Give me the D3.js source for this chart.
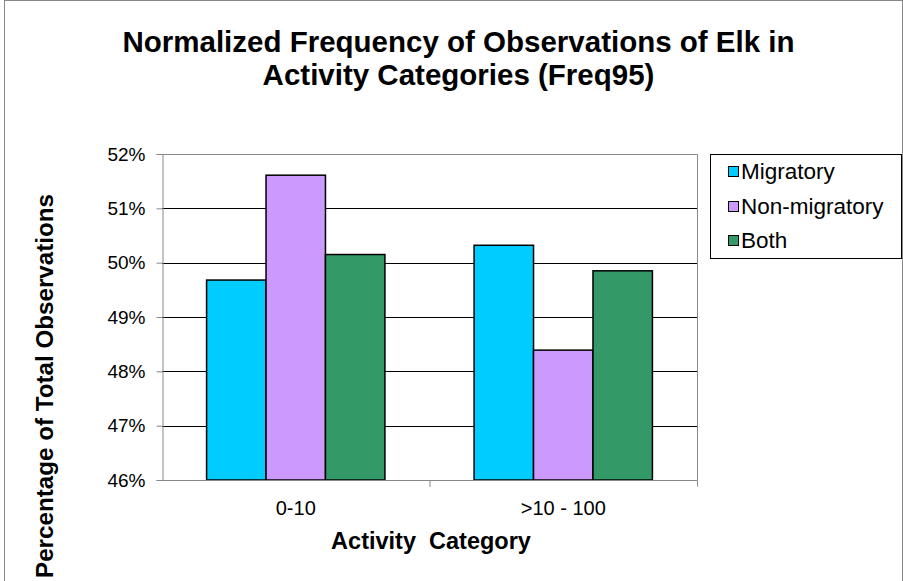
<!DOCTYPE html>
<html>
<head>
<meta charset="utf-8">
<script src="https://cdn.jsdelivr.net/npm/d3@7"></script>
<style>
  html, body { margin: 0; padding: 0; background: #fff; }
  svg { display: block; font-family: "Liberation Sans", Arial, sans-serif; }
</style>
</head>
<body>
<svg id="chart" width="903" height="581"></svg>
<script>
const categories = ["0-10", ">10 - 100"];
const seriesNames = ["Migratory", "Non-migratory", "Both"];
const migratory = [49.68, 50.32];
const nonMigratory = [51.61, 48.39];
const both = [50.15, 49.85];
const yTicks = [46, 47, 48, 49, 50, 51, 52];
const colors = ["#00CCFF", "#CC99FF", "#339966"];

const seriesValues = [migratory, nonMigratory, both];

const svg = d3.select("#chart");
const W = 903, H = 581;

// outer chart border
svg.append("rect").attr("x", 4.5).attr("y", 0.5).attr("width", W - 5).attr("height", H + 10)
  .attr("fill", "none").attr("stroke", "#888").attr("stroke-width", 1);

const plot = { left: 162, right: 697, top: 154, bottom: 480 };

const x0 = d3.scaleBand().domain(categories).range([plot.left, plot.right]).paddingInner(0).paddingOuter(0);
const groupPad = 0.75 / 4.5;
const x1 = d3.scaleBand().domain(seriesNames)
  .range([x0.bandwidth() * groupPad, x0.bandwidth() * (1 - groupPad)]).padding(0);
const y = d3.scaleLinear().domain([46, 52]).range([plot.bottom, plot.top]);

// gridlines
svg.append("g").selectAll("line").data(yTicks.filter(t => t !== 46 && t !== 52)).join("line")
  .attr("x1", plot.left).attr("x2", plot.right)
  .attr("y1", d => Math.round(y(d)) + 0.5).attr("y2", d => Math.round(y(d)) + 0.5)
  .attr("stroke", "#000").attr("stroke-width", 1);

// plot border top/right
svg.append("path")
  .attr("d", `M${plot.left},${plot.top + 0.5}H${plot.right + 0.5}V${plot.bottom}`)
  .attr("fill", "none").attr("stroke", "#888").attr("stroke-width", 1);

// bars
const groups = svg.append("g").selectAll("g").data(categories).join("g")
  .attr("transform", d => `translate(${x0(d)},0)`);
groups.selectAll("rect")
  .data((c, ci) => seriesNames.map((s, si) => ({ s, si, v: seriesValues[si][ci] })))
  .join("rect")
  .attr("x", d => x1(d.s))
  .attr("y", d => y(d.v))
  .attr("width", x1.bandwidth())
  .attr("height", d => y(46) - y(d.v))
  .attr("fill", d => colors[d.si])
  .attr("stroke", "#000").attr("stroke-width", 1.5);

// y axis
const yAxis = d3.axisLeft(y).tickValues(yTicks).tickSize(6).tickPadding(11)
  .tickFormat(d => d + "%");
const yg = svg.append("g").attr("transform", `translate(${plot.left + 0.5},0)`).call(yAxis);
yg.select(".domain").attr("stroke", "#888");
yg.selectAll(".tick line").attr("stroke", "#888");
yg.selectAll(".tick text").attr("font-size", 19).attr("fill", "#000")
  .attr("font-family", "Liberation Sans, Arial, sans-serif");

// x axis
const xAxis = d3.axisBottom(x0).tickSize(0).tickPadding(20);
const xg = svg.append("g").attr("transform", `translate(0,${plot.bottom + 0.5})`).call(xAxis);
xg.select(".domain").attr("stroke", "#888").attr("d", `M${plot.left},0H${plot.right + 0.5}V6`);
xg.selectAll(".tick text").attr("font-size", 20).attr("fill", "#000")
  .attr("font-family", "Liberation Sans, Arial, sans-serif");
// category separator ticks
svg.append("g").selectAll("line").data([x0(categories[1])]).join("line")
  .attr("x1", d => d + 0.5).attr("x2", d => d + 0.5)
  .attr("y1", plot.bottom).attr("y2", plot.bottom + 7)
  .attr("stroke", "#888");

// title
const title = svg.append("text").attr("x", 458.5).attr("text-anchor", "middle")
  .attr("font-weight", "bold").attr("font-size", 29.5).attr("fill", "#000");
title.append("tspan").attr("x", 458.5).attr("y", 52).text("Normalized Frequency of Observations of Elk in");
title.append("tspan").attr("x", 458.5).attr("y", 85).text("Activity Categories (Freq95)");

// axis titles
svg.append("text").attr("x", 431).attr("y", 549).attr("text-anchor", "middle")
  .attr("font-weight", "bold").attr("font-size", 23.5).attr("fill", "#000")
  .attr("xml:space", "preserve").text("Activity  Category");
svg.append("text").attr("transform", "translate(53,194) rotate(-90)")
  .attr("text-anchor", "end")
  .attr("font-weight", "bold").attr("font-size", 24.2).attr("fill", "#000")
  .text("Percentage of Total Observations");

// legend
const lg = svg.append("g");
lg.append("rect").attr("x", 710.5).attr("y", 154.5).attr("width", 191).attr("height", 104)
  .attr("fill", "#fff").attr("stroke", "#000").attr("stroke-width", 1);
const rowsY = [172, 207, 241];
const items = lg.selectAll("g.item").data(seriesNames).join("g").attr("class", "item")
  .attr("transform", (d, i) => `translate(0,${rowsY[i]})`);
items.append("rect").attr("x", 728.5).attr("y", -5.5).attr("width", 10).attr("height", 10)
  .attr("fill", (d, i) => colors[i]).attr("stroke", "#000").attr("stroke-width", 1);
items.append("text").attr("x", 741).attr("y", 6.5).attr("font-size", 22.5).attr("fill", "#000")
  .text(d => d);
</script>
</body>
</html>
